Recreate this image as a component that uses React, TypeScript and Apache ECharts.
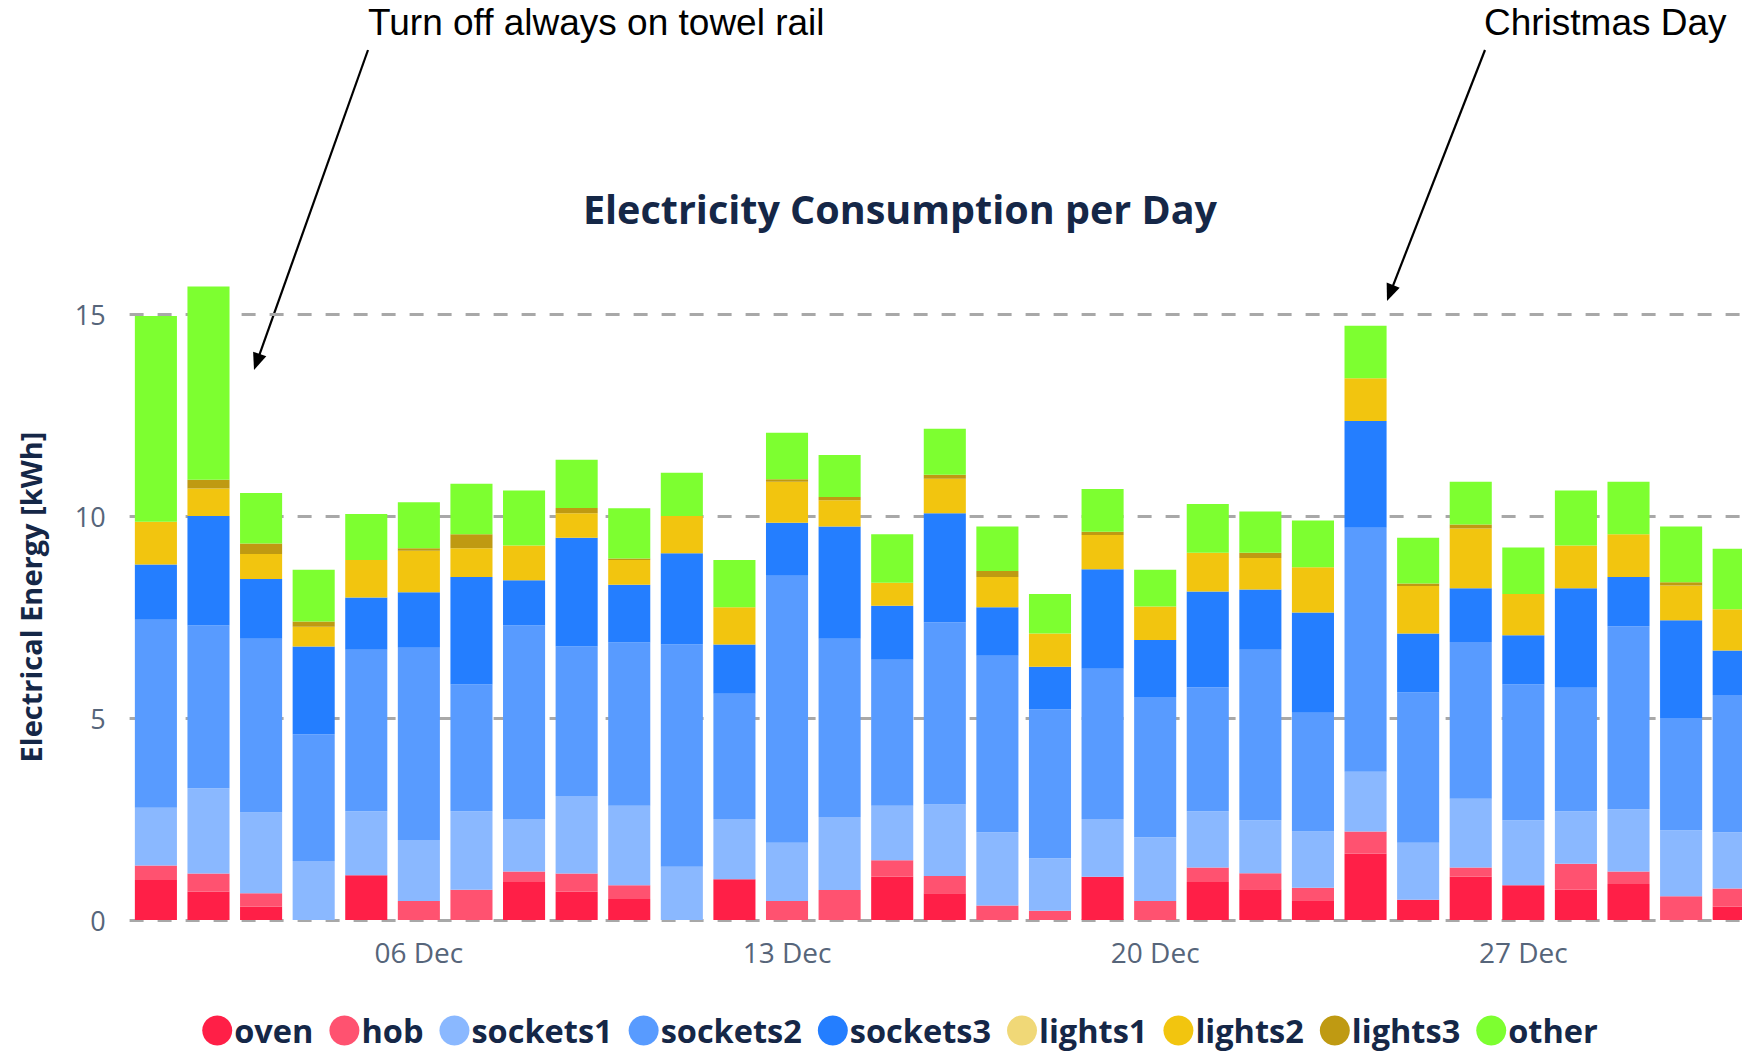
import React, { useEffect, useRef } from "react";
import * as echarts from "echarts";

const days = [
  "01 Dec", "02 Dec", "03 Dec", "04 Dec", "05 Dec", "06 Dec", "07 Dec", "08 Dec",
  "09 Dec", "10 Dec", "11 Dec", "12 Dec", "13 Dec", "14 Dec", "15 Dec", "16 Dec",
  "17 Dec", "18 Dec", "19 Dec", "20 Dec", "21 Dec", "22 Dec", "23 Dec", "24 Dec",
  "25 Dec", "26 Dec", "27 Dec", "28 Dec", "29 Dec", "30 Dec", "31 Dec",
];

const oven = [0.99, 0.7, 0.33, 0, 1.11, 0, 0, 0.94, 0.7, 0.52, 0, 1.01, 0, 0, 1.07, 0.66, 0, 0, 1.07, 0, 0.94, 0.76, 0.49, 1.64, 0.5, 1.07, 0.86, 0.75, 0.89, 0, 0.33];
const hob = [0.36, 0.45, 0.33, 0, 0, 0.47, 0.75, 0.26, 0.45, 0.34, 0, 0, 0.47, 0.74, 0.41, 0.43, 0.36, 0.23, 0, 0.47, 0.36, 0.4, 0.31, 0.55, 0, 0.23, 0, 0.64, 0.31, 0.59, 0.45];
const sockets1 = [1.43, 2.11, 2.0, 1.46, 1.58, 1.51, 1.94, 1.3, 1.92, 1.97, 1.32, 1.49, 1.44, 1.81, 1.35, 1.77, 1.81, 1.3, 1.43, 1.58, 1.39, 1.31, 1.39, 1.48, 1.41, 1.7, 1.61, 1.3, 1.54, 1.63, 1.39];
const sockets2 = [4.65, 4.03, 4.3, 3.14, 4.0, 4.76, 3.14, 4.79, 3.7, 4.04, 5.5, 3.1, 6.61, 4.41, 3.61, 4.51, 4.37, 3.68, 3.72, 3.47, 3.07, 4.22, 2.94, 6.04, 3.72, 3.88, 3.36, 3.06, 4.53, 2.78, 3.4];
const sockets3 = [1.37, 2.71, 1.48, 2.17, 1.29, 1.37, 2.66, 1.12, 2.69, 1.43, 2.26, 1.22, 1.31, 2.78, 1.34, 2.7, 1.2, 1.06, 2.46, 1.41, 2.37, 1.49, 2.48, 2.64, 1.46, 1.33, 1.22, 2.46, 1.22, 2.42, 1.1];
const lights1 = [0, 0, 0, 0, 0, 0, 0, 0, 0, 0, 0, 0, 0, 0, 0, 0, 0, 0, 0, 0, 0, 0, 0, 0, 0, 0, 0, 0, 0, 0, 0];
const lights2 = [1.06, 0.68, 0.62, 0.49, 0.93, 1.03, 0.71, 0.86, 0.61, 0.61, 0.92, 0.92, 1.02, 0.65, 0.57, 0.85, 0.75, 0.82, 0.85, 0.83, 0.96, 0.78, 1.12, 1.06, 1.18, 1.48, 1.02, 1.06, 1.06, 0.86, 1.02];
const lights3 = [0, 0.22, 0.26, 0.13, 0, 0.06, 0.35, 0, 0.13, 0.04, 0, 0, 0.06, 0.08, 0, 0.1, 0.15, 0, 0.08, 0, 0, 0.13, 0, 0, 0.06, 0.1, 0, 0, 0, 0.08, 0];
const other = [5.09, 4.78, 1.25, 1.28, 1.14, 1.14, 1.25, 1.36, 1.19, 1.24, 1.07, 1.17, 1.15, 1.04, 1.2, 1.14, 1.1, 0.98, 1.06, 0.91, 1.21, 1.02, 1.16, 1.3, 1.13, 1.06, 1.15, 1.36, 1.3, 1.38, 1.5];

const seriesNames = ["oven", "hob", "sockets1", "sockets2", "sockets3", "lights1", "lights2", "lights3", "other"];
const seriesData = [oven, hob, sockets1, sockets2, sockets3, lights1, lights2, lights3, other];
const seriesColors = ["#ff1f47", "#ff5270", "#8ab8ff", "#589bff", "#247eff", "#f0d877", "#f2c50f", "#bf9a12", "#7dff30"];

const yTicks = { min: 0, max: 15, interval: 5 };

function arrow(x1: number, y1: number, x2: number, y2: number) {
  const dx = x2 - x1;
  const dy = y2 - y1;
  const len = Math.sqrt(dx * dx + dy * dy);
  const ux = dx / len;
  const uy = dy / len;
  const hl = 17;
  const hw = 7;
  const bx = x2 - ux * hl;
  const by = y2 - uy * hl;
  return [
    {
      type: "line",
      shape: { x1, y1, x2: bx + ux * 2, y2: by + uy * 2 },
      style: { stroke: "#000", lineWidth: 2.2 },
      silent: true,
    },
    {
      type: "polygon",
      shape: {
        points: [
          [x2, y2],
          [bx - uy * hw, by + ux * hw],
          [bx + uy * hw, by - ux * hw],
        ],
      },
      style: { fill: "#000" },
      silent: true,
    },
  ];
}

export default function App() {
  const ref = useRef<HTMLDivElement>(null);

  useEffect(() => {
    if (!ref.current) return;
    const chart = echarts.init(ref.current, undefined, { renderer: "svg" });
    const navy = "#152747";
    const option: any = {
      animation: false,
      backgroundColor: "#ffffff",
      title: {
        text: "Electricity Consumption per Day",
        left: "center",
        top: 184,
        textStyle: {
          fontFamily: "Open Sans",
          fontWeight: "bold",
          fontSize: 39.5,
          color: navy,
        },
      },
      legend: {
        bottom: 2,
        left: "center",
        icon: "circle",
        itemWidth: 30,
        itemHeight: 30,
        itemGap: 16,
        textStyle: {
          fontFamily: "Open Sans",
          fontWeight: "bold",
          fontSize: 32.5,
          color: navy,
          padding: [0, 0, 0, -3],
        },
        data: seriesNames,
      },
      grid: {
        left: 129.6,
        right: 40,
        top: 314,
        bottom: 134,
      },
      xAxis: {
        type: "category",
        data: days,
        axisLine: { show: false },
        axisTick: { show: false },
        axisLabel: {
          interval: (index: number) => index % 7 === 5,
          fontFamily: "Open Sans",
          fontSize: 28,
          color: "#56657a",
          margin: 18,
        },
      },
      yAxis: {
        type: "value",
        min: yTicks.min,
        max: yTicks.max,
        interval: yTicks.interval,
        axisLine: { show: false },
        axisTick: { show: false },
        axisLabel: {
          fontFamily: "Open Sans",
          fontSize: 27,
          color: "#56657a",
          margin: 24,
        },
        splitLine: {
          show: true,
          lineStyle: { color: "#a8a8a8", width: 3, type: [14, 14] },
        },
      },
      series: seriesNames.map((name, i) => ({
        name,
        type: "bar",
        stack: "total",
        data: seriesData[i],
        barWidth: "80%",
        clip: false,
        itemStyle: { color: seriesColors[i] },
      })),
      graphic: [
        {
          type: "text",
          x: 30,
          y: 597,
          rotation: Math.PI / 2,
          style: {
            text: "Electrical Energy [kWh]",
            fontFamily: "Open Sans",
            fontWeight: "bold",
            fontSize: 29,
            fill: navy,
            textAlign: "center",
            textVerticalAlign: "middle",
          },
          silent: true,
        },
        {
          type: "text",
          x: 368,
          y: 22,
          style: {
            text: "Turn off always on towel rail",
            fontFamily: "Liberation Sans",
            fontSize: 37,
            fill: "#000",
            textAlign: "left",
            textVerticalAlign: "middle",
          },
          silent: true,
        },
        {
          type: "text",
          x: 1484,
          y: 22,
          style: {
            text: "Christmas Day",
            fontFamily: "Liberation Sans",
            fontSize: 37,
            fill: "#000",
            textAlign: "left",
            textVerticalAlign: "middle",
          },
          silent: true,
        },
        ...arrow(368, 50, 254, 370),
        ...arrow(1485, 50, 1387, 301),
      ],
    };
    chart.setOption(option);
    return () => chart.dispose();
  }, []);

  return (
    <div
      style={{
        position: "fixed",
        left: 0,
        top: 0,
        width: 1742,
        height: 1054,
        overflow: "hidden",
        background: "#fff",
      }}
    >
      <div ref={ref} style={{ width: 1800, height: 1054 }} />
    </div>
  );
}
